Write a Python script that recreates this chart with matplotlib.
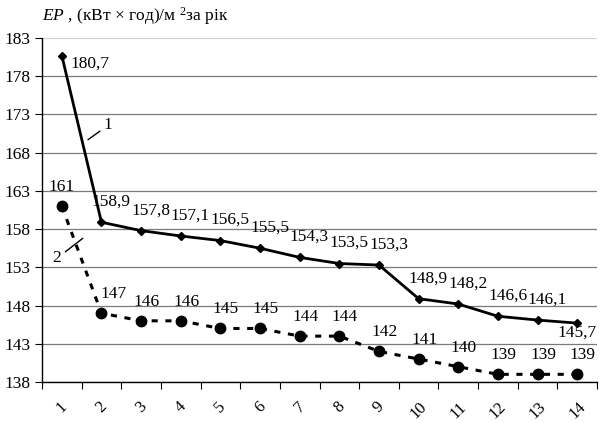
import matplotlib

matplotlib.use("Agg")
import matplotlib.pyplot as plt

plt.rcParams["font.family"] = ["Liberation Serif", "DejaVu Serif"]
plt.rcParams["mathtext.fontset"] = "custom"
plt.rcParams["mathtext.rm"] = "Liberation Serif"
plt.rcParams["mathtext.it"] = "Liberation Serif:italic"

# data
categories = list(range(1, 15))
series1 = [180.7, 158.9, 157.8, 157.1, 156.5, 155.5, 154.3, 153.5, 153.3,
           148.9, 148.2, 146.6, 146.1, 145.7]
labels1 = ["180,7", "158,9", "157,8", "157,1", "156,5", "155,5", "154,3",
           "153,5", "153,3", "148,9", "148,2", "146,6", "146,1", "145,7"]
series2 = [161, 147, 146, 146, 145, 145, 144, 144, 142, 141, 140, 139, 139, 139]
yticks = list(range(138, 184, 5))

fig = plt.figure(figsize=(6.0, 4.23), dpi=100)
ax = fig.add_axes([0.07, 0.097, 0.925, 0.813])

for y in yticks:
    ax.axhline(y, color="#7a7a7a" if y != 183 else "#d0d0d0", linewidth=0.9, zorder=1)

ax.plot(categories, series1, color="black", linewidth=2, marker="D",
        markersize=4.5, zorder=3)
ax.plot(categories, series2, color="black", linewidth=2.2, linestyle=(0, (2, 2.5)),
        marker="o", markersize=7.5, zorder=3)

fs = 12.5
for i, (x, y, t) in enumerate(zip(categories, series1, labels1)):
    if i == 0:
        ax.annotate(t, (x, y), xytext=(6, -6), textcoords="offset points",
                    ha="left", va="center", fontsize=fs)
    elif i == len(categories) - 1:
        ax.annotate(t, (x, y), xytext=(0, -7), textcoords="offset points",
                    ha="center", va="center", fontsize=fs)
    else:
        ax.annotate(t, (x, y), xytext=(7, 9), textcoords="offset points",
                    ha="center", va="bottom", fontsize=fs)

for i, (x, y) in enumerate(zip(categories, series2)):
    dx = 0 if i == 0 else (9 if i == 1 else 4)
    ax.annotate(str(y), (x, y), xytext=(dx, 8), textcoords="offset points",
                ha="center", va="bottom", fontsize=fs)

# series callouts
ax.annotate("1", xy=(1.66, 169.7), xytext=(2.17, 171.6), fontsize=fs,
            ha="center", va="center",
            arrowprops=dict(arrowstyle="-", color="black", lw=1, shrinkA=1, shrinkB=0))
ax.annotate("2", xy=(1.53, 156.8), xytext=(0.88, 154.2), fontsize=fs,
            ha="center", va="center",
            arrowprops=dict(arrowstyle="-", color="black", lw=1, shrinkA=1, shrinkB=0))

ax.set_xlim(0.5, 14.5)
ax.set_ylim(138, 183)
ax.set_yticks(yticks)
ax.tick_params(axis="y", labelsize=fs, direction="out", length=5)

# category axis: ticks between categories, labels at centers
ax.set_xticks([c + 0.5 for c in [0] + categories])
ax.set_xticklabels([])
ax.set_xticks(categories, minor=True)
ax.set_xticklabels([str(c) for c in categories], minor=True, rotation=45,
                   ha="center", va="top", fontsize=fs - 0.5)
ax.tick_params(axis="x", which="major", direction="out", length=5)
ax.tick_params(axis="x", which="minor", length=0, pad=12)

for s in ["top", "right"]:
    ax.spines[s].set_visible(False)
ax.spines["left"].set_linewidth(1)
ax.spines["bottom"].set_linewidth(1)

fig.text(0.07, 0.962, r"$\it{EP}$ , (кВт × год)/м $^2$за рік", fontsize=12.5,
         ha="left", va="center")

fig.savefig("out.png")
